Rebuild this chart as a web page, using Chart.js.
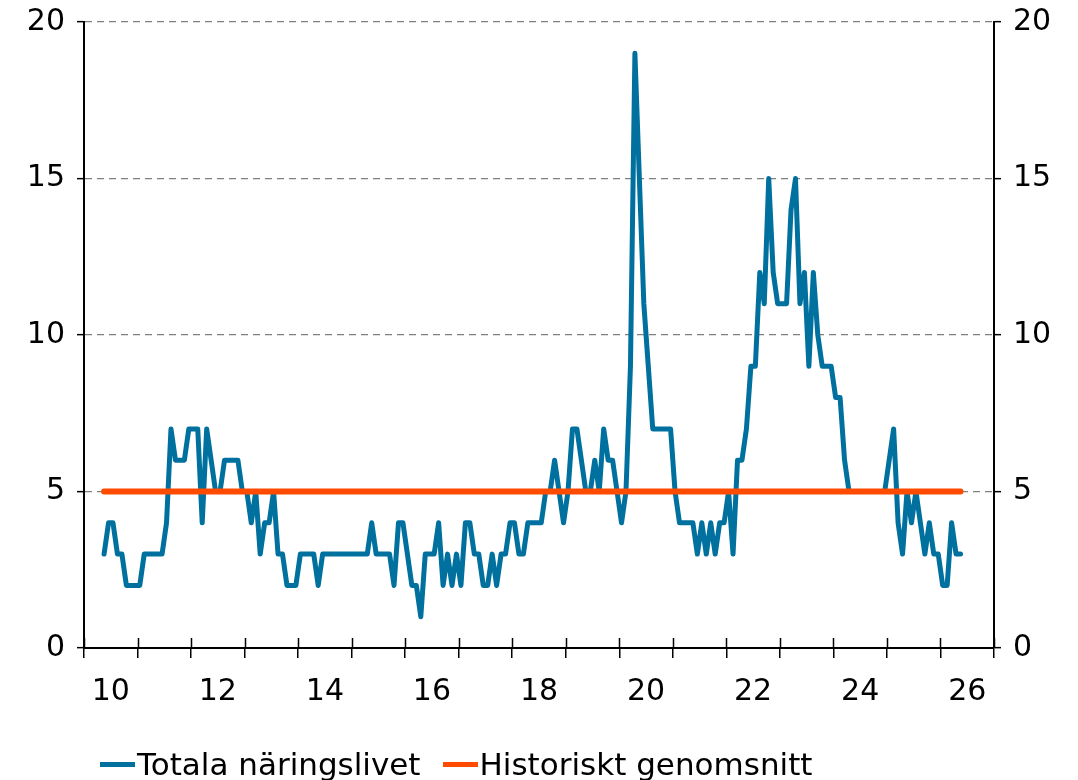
<!DOCTYPE html>
<html lang="sv">
<head>
<meta charset="UTF-8">
<title>Totala näringslivet</title>
<script src="https://cdn.jsdelivr.net/npm/chart.js@4.4.1/dist/chart.umd.min.js"></script>
<style>
    html, body { margin: 0; padding: 0; background: #fff; }
    #wrap { position: relative; width: 1078px; height: 780px; }
    #legend { position: absolute; left: 100px; top: 746px; display: flex; align-items: center;
              font-family: "DejaVu Sans", Verdana, sans-serif; font-size: 31px; color: #000; white-space: nowrap; }
    .item { display: flex; align-items: center; margin-right: 22px; }
    .swatch { width: 35px; height: 5px; margin-right: 2px; }
</style>
</head>
<body>
<div id="wrap">
    <canvas id="myChart" width="1078" height="780"></canvas>
    <div id="legend"></div>
</div>

<script>
// monthly series, first value = May 2010
const startYear = 2010;
const startMonth = 5;
const totala = [
    3,4,4,3,3,2,2,2,2,3,
    3,3,3,3,4,7,6,6,6,7,
    7,7,4,7,6,5,5,6,6,6,
    6,5,5,4,5,3,4,4,5,3,
    3,2,2,2,3,3,3,3,2,3,
    3,3,3,3,3,3,3,3,3,3,
    4,3,3,3,3,2,4,4,3,2,
    2,1,3,3,3,4,2,3,2,3,
    2,4,4,3,3,2,2,3,2,3,
    3,4,4,3,3,4,4,4,4,5,
    5,6,5,4,5,7,7,6,5,5,
    6,5,7,6,6,5,4,5,9,19,
    15,11,9,7,7,7,7,7,5,4,
    4,4,4,3,4,3,4,3,4,4,
    5,3,6,6,7,9,9,12,11,15,
    12,11,11,11,14,15,11,12,9,12,
    10,9,9,9,8,8,6,5,5,5,
    5,5,5,5,5,5,6,7,4,3,
    5,4,5,4,3,4,3,3,2,2,
    4,3,3
];
const historisktSnitt = 5;
const yTicks = [0, 5, 10, 15, 20];
const xLabelYears = ['10', '12', '14', '16', '18', '20', '22', '24', '26'];
const seriesNames = ['Totala näringslivet', 'Historiskt genomsnitt'];
const seriesColors = ['#00709f', '#ff4b00'];

const fontFamily = '"DejaVu Sans", Verdana, sans-serif';
const fontSize = 30;

// month -> decimal year (middle of month)
const xDates = totala.map((v, i) => startYear + (startMonth - 1 + i + 0.5) / 12);
const totalaPts = totala.map((v, i) => ({ x: xDates[i], y: v }));
const snittPts = totala.map((v, i) => ({ x: xDates[i], y: historisktSnitt }));

// small tick marks crossing the x axis upwards
const innerTicks = {
    id: 'innerTicks',
    afterDraw(chart) {
        const xs = chart.scales.x;
        const ctx = chart.ctx;
        const bottom = chart.chartArea.bottom;
        ctx.save();
        ctx.strokeStyle = '#000';
        ctx.lineWidth = 1.5;
        ctx.beginPath();
        xs.ticks.forEach(t => {
            const px = Math.round(xs.getPixelForValue(t.value)) + 0.5;
            ctx.moveTo(px, bottom);
            ctx.lineTo(px, bottom - 10);
        });
        ctx.stroke();
        ctx.restore();
    }
};

const yAxis = (pos) => ({
    type: 'linear',
    position: pos,
    min: 0,
    max: 20,
    afterBuildTicks: s => { s.ticks = yTicks.map(v => ({ value: v })); },
    afterFit: s => { s.width = 84; s.paddingTop = 0; s.paddingBottom = 0; },
    grid: {
        drawOnChartArea: pos === 'left',
        color: ctx => ctx.tick && ctx.tick.value === 0 ? 'rgba(0,0,0,0)' : '#808080',
        lineWidth: 1.3,
        tickColor: '#000',
        tickLength: 7,
        tickWidth: 1.5
    },
    border: { display: true, color: '#000', width: 2, dash: [7, 5] },
    ticks: { color: '#000', padding: 12, font: { family: fontFamily, size: fontSize } }
});

const ctx = document.getElementById('myChart').getContext('2d');
const myChart = new Chart(ctx, {
    type: 'line',
    data: {
        datasets: [{
            label: seriesNames[0],
            data: totalaPts,
            borderColor: seriesColors[0],
            backgroundColor: seriesColors[0],
            borderWidth: 5,
            pointRadius: 0,
            tension: 0,
            borderJoinStyle: 'round',
            borderCapStyle: 'round',
            order: 2
        }, {
            label: seriesNames[1],
            data: snittPts,
            borderColor: seriesColors[1],
            backgroundColor: seriesColors[1],
            borderWidth: 6,
            pointRadius: 0,
            borderCapStyle: 'round',
            order: 1
        }]
    },
    options: {
        responsive: false,
        animation: false,
        layout: { padding: { top: 22, bottom: 62, left: 0, right: 0 } },
        plugins: { legend: { display: false }, tooltip: { enabled: false } },
        scales: {
            x: {
                type: 'linear',
                position: 'bottom',
                min: 2010,
                max: 2027,
                ticks: { display: false, stepSize: 1 },
                afterFit: s => { s.height = 10; },
                grid: { drawOnChartArea: false, color: '#000', tickLength: 10, lineWidth: 1.5 },
                border: { display: true, color: '#000', width: 2 }
            },
            xLabels: {
                type: 'linear',
                position: 'bottom',
                min: 2010,
                max: 2027,
                afterBuildTicks: s => { s.ticks = xLabelYears.map(y => ({ value: 2000 + Number(y) + 0.5 })); },
                afterFit: s => { s.height = 60; },
                grid: { display: false },
                border: { display: false },
                ticks: {
                    autoSkip: false,
                    maxRotation: 0,
                    padding: 8,
                    color: '#000',
                    font: { family: fontFamily, size: fontSize },
                    callback: v => String(Math.floor(v) - 2000)
                }
            },
            y: yAxis('left'),
            y2: yAxis('right')
        }
    },
    plugins: [innerTicks]
});

// legend as html
const legend = document.getElementById('legend');
seriesNames.forEach((name, i) => {
    const item = document.createElement('div');
    item.className = 'item';
    const sw = document.createElement('span');
    sw.className = 'swatch';
    sw.style.background = seriesColors[i];
    const txt = document.createElement('span');
    txt.textContent = name;
    item.appendChild(sw);
    item.appendChild(txt);
    legend.appendChild(item);
});
</script>
</body>
</html>
